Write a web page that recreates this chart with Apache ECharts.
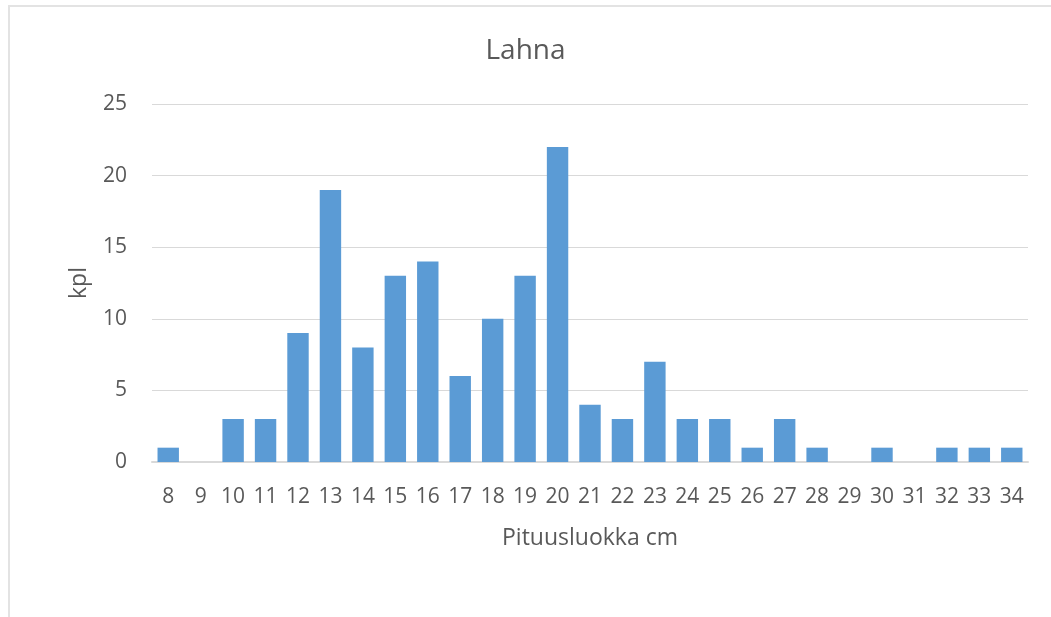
<!DOCTYPE html>
<html>
<head>
<meta charset="utf-8">
<script src="https://cdn.jsdelivr.net/npm/echarts@6/dist/echarts.min.js"></script>
<style>
  html, body { margin: 0; padding: 0; background: #fff; }
  #frame { position: absolute; left: 8px; top: 5px; width: 1043px; height: 612px;
           border-top: 2px solid #e3e3e3; border-left: 2px solid #e3e3e3; box-sizing: border-box; }
  #chart { position: absolute; left: 0; top: 0; width: 1051px; height: 617px; }
</style>
</head>
<body>
<div id="frame"></div>
<div id="chart"></div>
<script>
// Pituusluokat (cm) ja kappalemäärät
const lengths = ['8', '9', '10', '11', '12', '13', '14', '15', '16', '17', '18', '19', '20', '21',
  '22', '23', '24', '25', '26', '27', '28', '29', '30', '31', '32', '33', '34'];
const counts = [1, 0, 3, 3, 9, 19, 8, 13, 14, 6, 10, 13, 22, 4,
  3, 7, 3, 3, 1, 3, 1, 0, 1, 0, 1, 1, 1];

var chartDom = document.getElementById('chart');
var myChart = echarts.init(chartDom);
var textColor = '#595959';
var fontFamily = '"Open Sans", sans-serif';

var option = {
  animation: false,
  title: {
    text: 'Lahna',
    left: 'center',
    top: 32,
    textStyle: { color: textColor, fontSize: 28, fontWeight: 'normal', fontFamily: fontFamily }
  },
  grid: {
    left: 152,
    right: 23,
    top: 104,
    bottom: 155
  },
  xAxis: {
    type: 'category',
    data: lengths,
    name: 'Pituusluokka cm',
    nameLocation: 'middle',
    nameGap: 65,
    nameTextStyle: { color: textColor, fontSize: 23, fontFamily: fontFamily },
    axisLine: { lineStyle: { color: '#d9d9d9', width: 2 } },
    axisTick: { show: false },
    axisLabel: { color: textColor, fontSize: 21, margin: 25, interval: 0, fontFamily: fontFamily }
  },
  yAxis: {
    type: 'value',
    min: 0,
    max: 25,
    interval: 5,
    name: 'kpl',
    nameLocation: 'middle',
    nameGap: 61,
    nameTextStyle: { color: textColor, fontSize: 23, fontFamily: fontFamily },
    axisLine: { show: false },
    axisTick: { show: false },
    axisLabel: { color: textColor, fontSize: 21, margin: 25, fontFamily: fontFamily },
    splitLine: { lineStyle: { color: '#d9d9d9', width: 1 } }
  },
  series: [
    {
      name: 'kpl',
      type: 'bar',
      data: counts,
      barWidth: '66%',
      itemStyle: { color: '#5b9bd5' }
    }
  ]
};
myChart.setOption(option);
</script>
</body>
</html>
